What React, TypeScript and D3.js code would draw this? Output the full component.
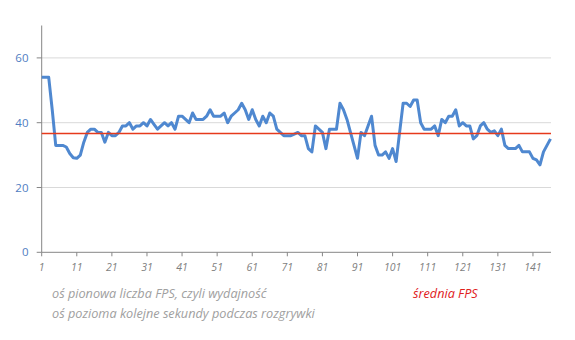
import React from "react";
import * as d3 from "d3";

// FPS w kolejnych sekundach rozgrywki
const fps = [
  54, 54, 54, 44, 33, 33, 33, 32.5, 30.5, 29.2,
  29, 30, 34, 37, 38, 38, 37, 37, 34, 37,
  36, 36, 37, 39, 39, 40, 38, 39, 39, 40,
  39, 41, 39.5, 38, 39, 40, 39, 40, 38, 42,
  42, 41, 40, 43, 41, 41, 41, 42, 44, 42,
  42, 42, 43, 40, 42, 43, 44, 46, 44, 41,
  44, 41, 39, 42, 40, 43, 42, 38, 37, 36,
  36, 36, 36.5, 37, 36, 36, 32, 31, 39, 38,
  37, 32, 38, 38, 38, 46, 44, 41, 37, 33,
  29, 37, 36, 39, 42, 33, 30, 30, 31, 29,
  32, 28, 37, 46, 46, 45, 47, 47, 40, 38,
  38, 38, 39, 36, 41, 40, 42, 42, 44, 39,
  40, 39, 39, 35, 36, 39, 40, 38, 37, 37.5,
  36, 38, 33, 32, 32, 32, 33, 31, 31, 31,
  29, 28.5, 27, 31, 33, 35,
];
const seconds = fps.map((_, i) => i + 1);
const srednia = 36.7;
const yTicks = [0, 20, 40, 60];
const xTicks = d3.range(1, 146, 10); // 1, 11, ... 141
const opisy = [
  "oś pionowa liczba FPS, czyli wydajność",
  "oś pozioma kolejne sekundy podczas rozgrywki",
];
const legendaSrednia = "średnia FPS";

const W = 575;
const H = 340;
const left = 41.7;
const right = 551;

export default function App() {
  const x = d3.scaleLinear().domain([1, seconds.length]).range([left, 550.5]);
  const y = d3.scaleLinear().domain([0, 70]).range([252.3, 25.5]);
  const line = d3
    .line<number>()
    .x((_, i) => x(seconds[i]))
    .y((d) => y(d));

  return (
    <svg
      width={W}
      height={H}
      style={{ position: "absolute", left: 0, top: 0, background: "#fff" }}
      fontFamily="'Open Sans', 'Liberation Sans', sans-serif"
    >
      {/* siatka */}
      {yTicks.filter((t) => t > 0).map((t) => (
        <line key={t} x1={left} x2={right} y1={y(t)} y2={y(t)} stroke="#d9d9d9" strokeWidth={1} />
      ))}
      {/* oś Y */}
      <line x1={left} x2={left} y1={y(70)} y2={y(0)} stroke="#868686" strokeWidth={1} />
      {yTicks.map((t) => (
        <g key={t}>
          <line x1={left - 5} x2={left} y1={y(t)} y2={y(t)} stroke="#868686" />
          <text x={28.5} y={y(t)} dy="0.35em" textAnchor="end" fontSize={11.5} fill="#4f7dc2">
            {t}
          </text>
        </g>
      ))}
      {/* oś X */}
      <line x1={left} x2={right} y1={y(0)} y2={y(0)} stroke="#868686" strokeWidth={1} />
      {xTicks.map((t) => (
        <g key={t}>
          <line x1={x(t)} x2={x(t)} y1={y(0)} y2={y(0) + 4} stroke="#868686" />
          <text x={x(t)} y={267} dy="0.35em" textAnchor="middle" fontSize={10.5} fontStyle="italic" fill="#7f7f7f">
            {t}
          </text>
        </g>
      ))}
      {/* seria */}
      <path d={line(fps) || ""} fill="none" stroke="#4f88d0" strokeWidth={3} strokeLinejoin="round" />
      {/* średnia */}
      <line x1={left} x2={right} y1={y(srednia)} y2={y(srednia)} stroke="#e63a1c" strokeWidth={1.5} />
      {/* opisy */}
      {opisy.map((s, i) => (
        <text key={s} x={52} y={294 + i * 19.5} dy="0.35em" fontSize={12.7} fontStyle="italic" fill="#a0a0a0">
          {s}
        </text>
      ))}
      <text x={413} y={294} dy="0.35em" fontSize={12.7} fontStyle="italic" fill="#e0201c">
        {legendaSrednia}
      </text>
    </svg>
  );
}
